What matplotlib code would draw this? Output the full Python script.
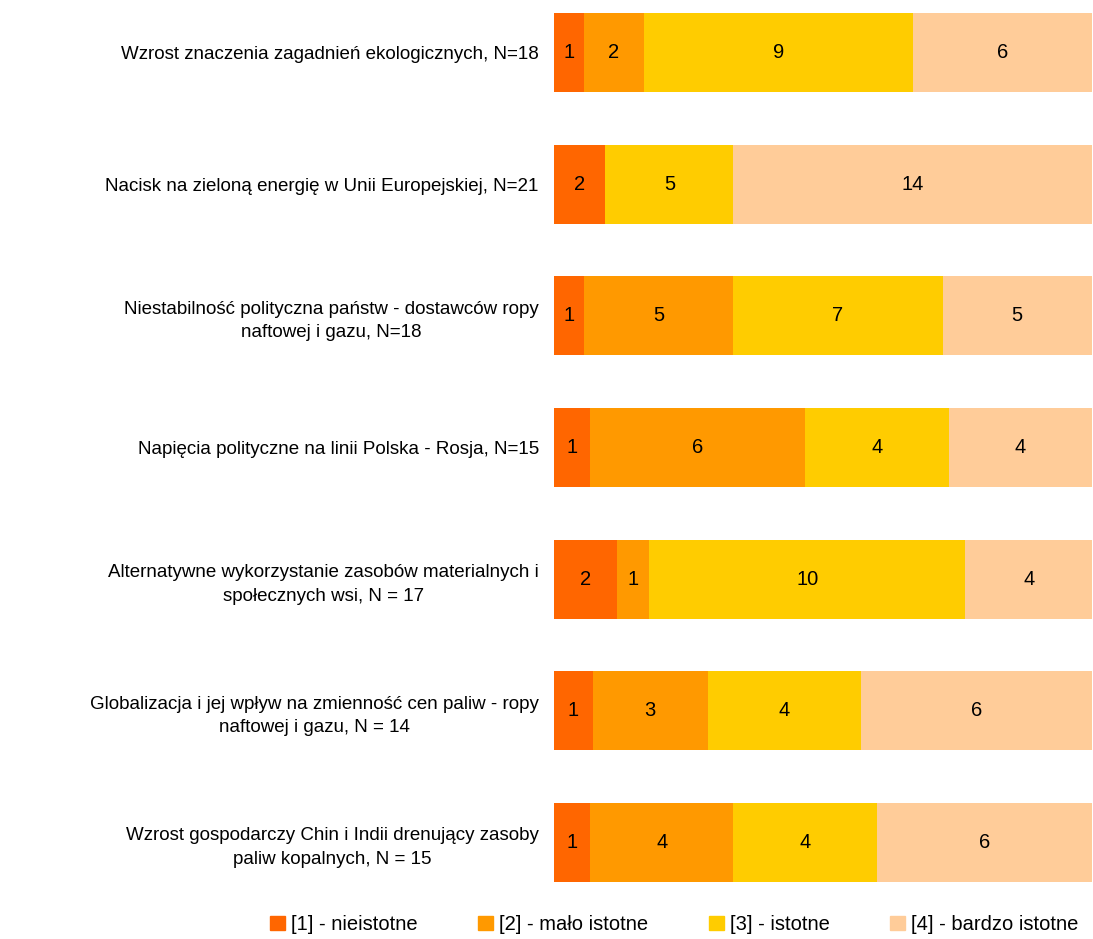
import numpy as np
import matplotlib.pyplot as plt
from matplotlib.patches import Patch

plt.rcParams['font.family'] = ['Liberation Sans', 'DejaVu Sans']

categories = [
    "Wzrost znaczenia zagadnień ekologicznych, N=18",
    "Nacisk na zieloną energię w Unii Europejskiej, N=21",
    "Niestabilność polityczna państw - dostawców ropy\nnaftowej i gazu, N=18",
    "Napięcia polityczne na linii Polska - Rosja, N=15",
    "Alternatywne wykorzystanie zasobów materialnych i\nspołecznych wsi, N = 17",
    "Globalizacja i jej wpływ na zmienność cen paliw - ropy\nnaftowej i gazu, N = 14",
    "Wzrost gospodarczy Chin i Indii drenujący zasoby\npaliw kopalnych, N = 15",
]
series_names = ["[1] - nieistotne", "[2] - mało istotne", "[3] - istotne", "[4] - bardzo istotne"]
s1 = [1, 2, 1, 1, 2, 1, 1]
s2 = [2, 0, 5, 6, 1, 3, 4]
s3 = [9, 5, 7, 4, 10, 4, 4]
s4 = [6, 14, 5, 4, 4, 6, 6]
colors = ["#FF6600", "#FF9900", "#FFCC00", "#FFCC99"]

counts = np.array([s1, s2, s3, s4], dtype=float)
totals = counts.sum(axis=0)
shares = counts / totals * 100

fig = plt.figure(figsize=(10.93, 9.39), dpi=100)
ax = fig.add_axes([0.507, 0.047, 0.492, 0.953])

y = np.arange(len(categories))
left = np.zeros(len(categories))
for i in range(4):
    ax.barh(y, shares[i], left=left, height=0.6, color=colors[i], label=series_names[i])
    for j in range(len(categories)):
        if counts[i, j] > 0:
            ax.text(left[j] + shares[i, j] / 2, y[j], f"{int(counts[i, j])}",
                    ha="center", va="center", fontsize=14.5, color="black")
    left += shares[i]

ax.set_xlim(0, 100)
ax.set_ylim(len(categories) - 0.6, -0.4)
ax.set_yticks(y)
ax.set_yticklabels(categories, fontsize=13.5)
for lbl in ax.get_yticklabels():
    lbl.set_multialignment("center")
    lbl.set_linespacing(1.5)
ax.tick_params(axis="y", length=0, pad=11)
ax.set_xticks([])
for sp in ax.spines.values():
    sp.set_visible(False)

handles = [Patch(color=c) for c in colors]
fig.legend(handles, series_names, loc="lower center", bbox_to_anchor=(0.617, -0.014), ncol=4,
           frameon=False, fontsize=14.5, handlelength=0.75, handleheight=0.75,
           handletextpad=0.3, columnspacing=3.0)

fig.savefig("out.png", dpi=100)
